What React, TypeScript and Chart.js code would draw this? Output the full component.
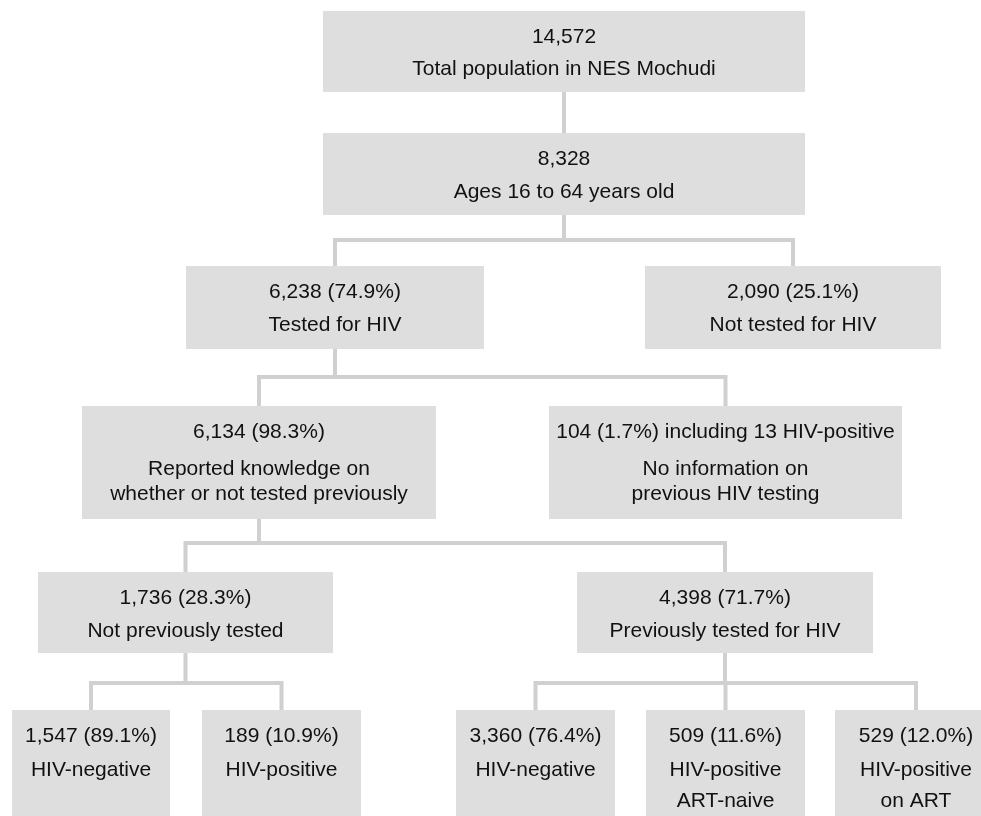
import React, { useEffect, useRef } from "react";
import { Chart, registerables } from "chart.js";

Chart.register(...registerables);

// ---------- DATA ----------
const nodeCounts = [14572, 8328, 6238, 2090, 6134, 104, 1736, 4398, 1547, 189, 3360, 509, 529];
const nodePercents = [null, null, 74.9, 25.1, 98.3, 1.7, 28.3, 71.7, 89.1, 10.9, 76.4, 11.6, 12.0];
const nodeNotes = ["", "", "", "", "", "including 13 HIV-positive", "", "", "", "", "", "", ""];
const nodeLabels = [
  ["Total population in NES Mochudi"],
  ["Ages 16 to 64 years old"],
  ["Tested for HIV"],
  ["Not tested for HIV"],
  ["Reported knowledge on", "whether or not tested previously"],
  ["No information on", "previous HIV testing"],
  ["Not previously tested"],
  ["Previously tested for HIV"],
  ["HIV-negative"],
  ["HIV-positive"],
  ["HIV-negative"],
  ["HIV-positive", "ART-naive"],
  ["HIV-positive", "on ART"],
];
const nodeParents = [-1, 0, 1, 1, 2, 2, 4, 4, 6, 6, 7, 7, 7];

// ---------- LAYOUT (chart units) ----------
const boxLeft = [323, 323, 186, 645, 82, 549, 38, 577, 12, 202, 456, 646, 835];
const boxRight = [805, 805, 484, 941, 436, 902, 333, 873, 170, 361, 615, 805, 997];
const boxTop = [11, 133, 266, 266, 406, 406, 572, 572, 710, 710, 710, 710, 710];
const boxBottom = [92, 215, 349, 349, 519, 519, 653, 653, 840, 840, 840, 840, 840];
const busY: Record<number, number> = { 0: 112, 1: 240, 2: 377, 4: 543, 6: 683, 7: 683 };
const headOffset = 26;
const labelOffset = [58.5, 59.5, 59.5, 59.5, 63, 63, 59, 59, 60, 60, 60, 60, 60];
const labelLineGap = [0, 0, 0, 0, 25.5, 25.5, 0, 0, 0, 0, 0, 31, 31];

// ---------- STYLE ----------
const BOX_FILL = "#dedede";
const LINE_COLOR = "#d0d0d0";
const TEXT_COLOR = "#111111";
const FONT = '21px "Liberation Sans", Arial, Helvetica, sans-serif';

const cx = (i: number) => (boxLeft[i] + boxRight[i]) / 2;

function headText(i: number): string {
  let s = nodeCounts[i].toLocaleString("en-US");
  const p = nodePercents[i];
  if (p !== null && p !== undefined) s += ` (${p.toFixed(1)}%)`;
  if (nodeNotes[i]) s += " " + nodeNotes[i];
  return s;
}

function buildConnectorDatasets() {
  const parents = Array.from(new Set(nodeParents.filter((p) => p >= 0)));
  return parents.map((p) => {
    const kids = nodeParents.map((q, i) => (q === p ? i : -1)).filter((i) => i >= 0);
    const by = busY[p];
    const xs = kids.map(cx);
    const minX = Math.min(...xs);
    const maxX = Math.max(...xs);
    const left = kids[xs.indexOf(minX)];
    const right = kids[xs.indexOf(maxX)];
    const pts: { x: number; y: number | null }[] = [];
    pts.push({ x: cx(p), y: boxBottom[p] - 2 });
    pts.push({ x: cx(p), y: by });
    pts.push({ x: cx(p), y: null });
    pts.push({ x: minX, y: boxTop[left] + 2 });
    pts.push({ x: minX, y: by });
    pts.push({ x: maxX, y: by });
    pts.push({ x: maxX, y: boxTop[right] + 2 });
    kids.forEach((k) => {
      if (k !== left && k !== right) {
        pts.push({ x: cx(k), y: null });
        pts.push({ x: cx(k), y: by });
        pts.push({ x: cx(k), y: boxTop[k] + 2 });
      }
    });
    return {
      type: "line" as const,
      label: "links-" + p,
      data: pts,
      borderColor: LINE_COLOR,
      borderWidth: 4,
      pointRadius: 0,
      fill: false,
      tension: 0,
      spanGaps: false,
      borderJoinStyle: "miter" as const,
      borderCapStyle: "butt" as const,
    };
  });
}

const boxesPlugin = {
  id: "flowBoxes",
  afterDatasetsDraw(chart: any) {
    const { ctx } = chart;
    const xs = chart.scales.x;
    const ys = chart.scales.y;
    ctx.save();
    nodeCounts.forEach((_, i) => {
      const x0 = xs.getPixelForValue(boxLeft[i]);
      const x1 = xs.getPixelForValue(boxRight[i]);
      const y0 = ys.getPixelForValue(boxTop[i]);
      const y1 = ys.getPixelForValue(boxBottom[i]);
      ctx.fillStyle = BOX_FILL;
      ctx.fillRect(x0, y0, x1 - x0, y1 - y0);
      ctx.fillStyle = TEXT_COLOR;
      ctx.font = FONT;
      ctx.textAlign = "center";
      ctx.textBaseline = "middle";
      const tx = xs.getPixelForValue(cx(i));
      ctx.fillText(headText(i), tx, ys.getPixelForValue(boxTop[i] + headOffset));
      nodeLabels[i].forEach((line, j) => {
        ctx.fillText(
          line,
          tx,
          ys.getPixelForValue(boxTop[i] + labelOffset[i] + j * labelLineGap[i])
        );
      });
    });
    ctx.restore();
  },
};

export default function App() {
  const ref = useRef<HTMLCanvasElement | null>(null);
  useEffect(() => {
    if (!ref.current) return;
    const chart = new Chart(ref.current, {
      type: "line",
      data: { datasets: buildConnectorDatasets() as any },
      options: {
        animation: false,
        responsive: false,
        maintainAspectRatio: false,
        layout: { padding: 0 },
        scales: {
          x: { type: "linear", min: 0, max: 981, display: false },
          y: { type: "linear", min: 0, max: 816, reverse: true, display: false },
        },
        plugins: {
          legend: { display: false },
          tooltip: { enabled: false },
        },
        events: [],
      },
      plugins: [boxesPlugin],
    });
    return () => chart.destroy();
  }, []);
  return (
    <div style={{ position: "absolute", left: 0, top: 0, width: 981, height: 816, background: "#fff" }}>
      <canvas ref={ref} width={981} height={816} style={{ display: "block" }} />
    </div>
  );
}
